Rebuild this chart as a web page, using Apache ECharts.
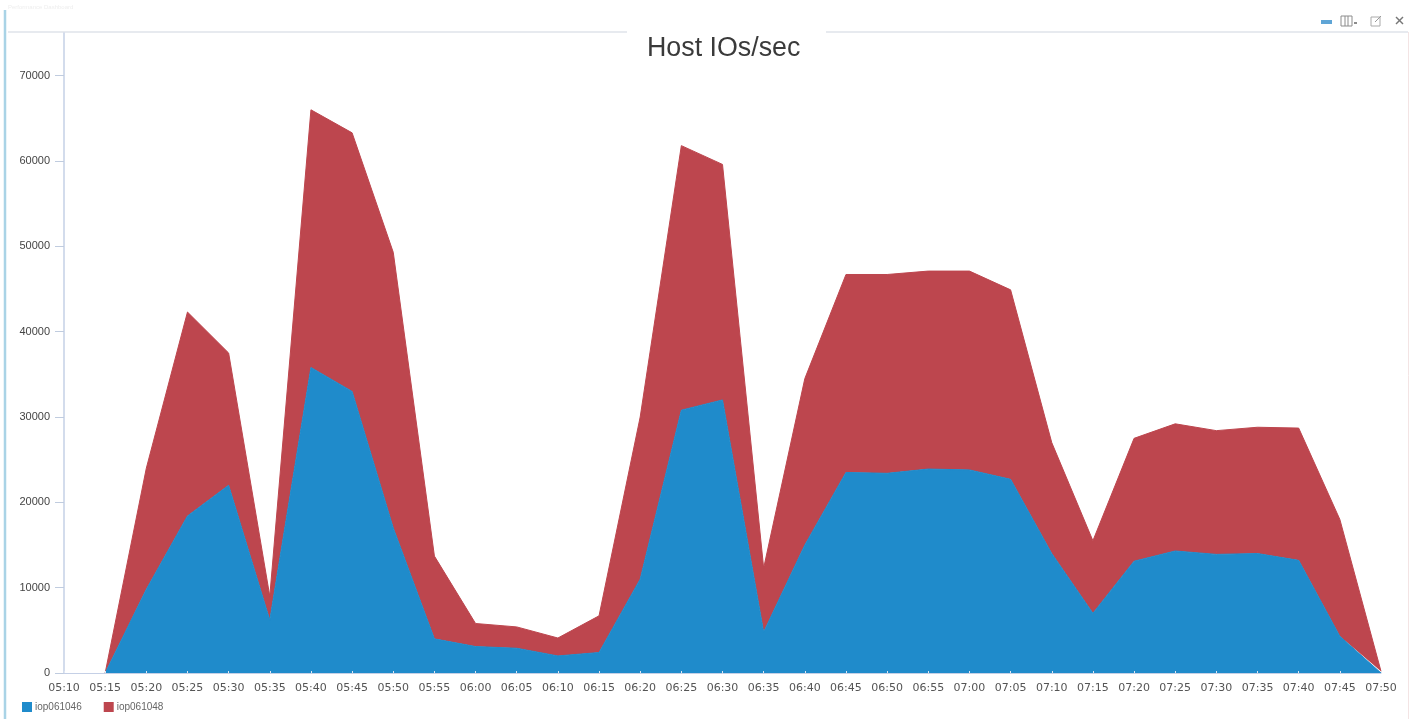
<!DOCTYPE html>
<html><head><meta charset="utf-8">
<style>html,body{margin:0;padding:0;background:#fff}#c{width:1419px;height:719px}</style>
<script src="https://cdn.jsdelivr.net/npm/echarts@6/dist/echarts.min.js"></script>
</head><body><div id="c"></div>
<script>
const times = ['05:10','05:15','05:20','05:25','05:30','05:35','05:40','05:45','05:50','05:55','06:00','06:05','06:10','06:15','06:20','06:25','06:30','06:35','06:40','06:45','06:50','06:55','07:00','07:05','07:10','07:15','07:20','07:25','07:30','07:35','07:40','07:45','07:50'];
const iop061046 = [null,0,9800,18400,22000,6200,35800,33000,17000,4000,3100,2900,2000,2400,11000,30800,32000,4800,15000,23500,23400,23900,23800,22700,14000,7000,13100,14300,13900,14000,13200,4300,0];
const iop061048 = [null,0,14200,23900,15500,2800,30200,30300,32300,9700,2700,2500,2100,4300,19000,31000,27600,7500,19500,23200,23300,23200,23300,22200,13000,8500,14400,14900,14500,14800,15500,13700,200];
const seriesNames = ['iop061046','iop061048'];
const seriesColors = ['#1f8bcb','#bd464e'];
const chartTitle = 'Host IOs/sec';

const chart = echarts.init(document.getElementById('c'), null, {renderer:'canvas'});
const line = (x1,y1,x2,y2,stroke,w)=>({type:'line',silent:true,shape:{x1,y1,x2,y2},style:{stroke,lineWidth:w||1}});
chart.setOption({
  animation:false,
  backgroundColor:'#fff',
  textStyle:{fontFamily:'"Liberation Sans",Arial,sans-serif'},
  title:{text:chartTitle,left:647,top:34,padding:0,z:20,
    textStyle:{fontFamily:'"Liberation Sans",Arial,sans-serif',fontSize:26.8,fontWeight:'normal',color:'#3a3a3a',lineHeight:30}},
  legend:{left:22,top:702,icon:'rect',itemWidth:10,itemHeight:10,itemGap:22,padding:0,
    textStyle:{fontSize:10,color:'#666',padding:[0,0,0,-2]},data:seriesNames},
  grid:{left:64,right:38,top:33,bottom:46,containLabel:false},
  xAxis:{type:'category',boundaryGap:false,data:times,
    axisLine:{lineStyle:{color:'#c5d0e6',width:1}},
    axisTick:{show:true,length:2,inside:true,interval:0,lineStyle:{color:'#dfe6f2'}},
    axisLabel:{interval:0,margin:10,fontFamily:'"DejaVu Sans",sans-serif',fontSize:11,color:'#555'},
    splitLine:{show:false},z:5},
  yAxis:{type:'value',min:0,max:75000,interval:10000,
    axisLine:{show:true,lineStyle:{color:'#c5d0e6',width:1.5}},
    axisTick:{show:true,length:9,lineStyle:{color:'#c0ccdf'}},
    axisLabel:{margin:14,fontSize:11,color:'#444',showMaxLabel:false,formatter:v=>String(v)},
    splitLine:{show:false}},
  series:seriesNames.map((n,i)=>({name:n,type:'line',stack:'io',symbol:'none',connectNulls:false,z:i===0?3:2,
    data:i===0?iop061046:iop061048,
    itemStyle:{color:seriesColors[i]},
    lineStyle:{width:1,color:seriesColors[i]},
    areaStyle:{color:seriesColors[i],opacity:1}})),
  graphic:[
    line(8,32,627,32,'#dfe3ea',1.5),
    line(826,32,1408,32,'#dfe3ea',1.5),
    line(5,10,5,719,'#a9d3e6',2.5),
    line(1408.5,32,1408.5,719,'#f3e4e4',1),
    {type:'text',silent:true,style:{x:8,y:4,text:'Performance Dashboard',font:'6px "Liberation Sans"',fill:'#eeeeee'}},
    {type:'rect',silent:true,shape:{x:1321,y:20,width:11,height:4},style:{fill:'#5fa5d6'}},
    {type:'rect',silent:true,shape:{x:1341,y:16,width:11,height:10},style:{fill:'none',stroke:'#8c8c8c',lineWidth:1}},
    line(1345,16,1345,26,'#8c8c8c',1),
    line(1348,16,1348,26,'#8c8c8c',1),
    line(1354,23,1357,23,'#666',1.5),
    {type:'rect',silent:true,shape:{x:1371,y:17,width:9,height:9},style:{fill:'none',stroke:'#aaaaaa',lineWidth:1}},
    line(1375,22,1381,16,'#999',1),
    line(1396,17,1403,24,'#777',1.4),
    line(1403,17,1396,24,'#777',1.4)
  ]
});
</script></body></html>
